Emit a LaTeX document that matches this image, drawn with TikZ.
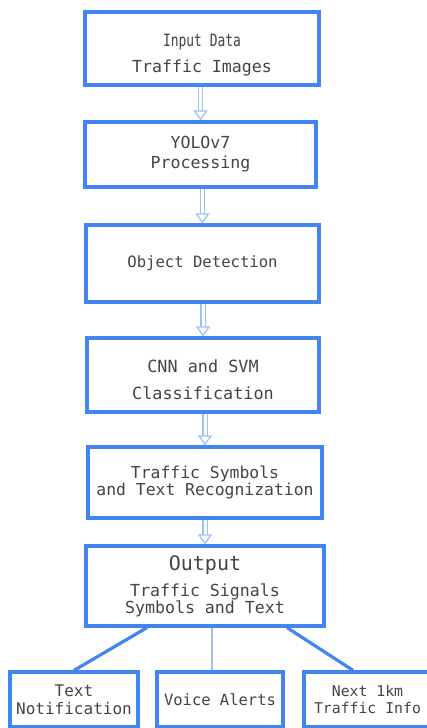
\documentclass[tikz,border=0pt]{standalone}
\usepackage{fontspec}
\setmonofont{DejaVu Sans Mono}
\newfontfamily\condmono[FakeStretch=0.76]{DejaVu Sans Mono}
\usetikzlibrary{arrows.meta}
\definecolor{boxblue}{HTML}{4285F0}
\definecolor{flowblue}{HTML}{9FC0F5}
\definecolor{ink}{HTML}{444444}
\newcommand{\mono}[2]{\ttfamily\fontsize{#1}{#2}\selectfont}
\begin{document}
\begin{tikzpicture}[x=1pt,y=-1pt,
  stage/.style={draw=boxblue, line width=3.2pt, fill=white, text=ink,
    align=center, inner sep=0pt},
  flow/.style={draw=flowblue, double=white, double distance=3pt, line width=1.3pt,
    -{Triangle[open, width=14pt, length=10pt, line width=1.3pt]}},
  branch/.style={draw=boxblue, line width=3.2pt},
  thinbranch/.style={draw=flowblue, line width=2pt}]
\useasboundingbox (0,0) rectangle (427,728);

% main pipeline
\node[stage, minimum width=234pt, minimum height=73pt, font=\mono{16.6}{20}] (inp) at (202,48.5)
  {\vphantom{Ag}\\[-6pt]{\condmono\fontsize{17}{15}\selectfont Input Data}\\[6pt]Traffic Images};
\node[stage, minimum width=231pt, minimum height=65pt, font=\mono{16.6}{20}] (yolo) at (200.5,154.5)
  {YOLOv7\\Processing};
\node[stage, minimum width=233pt, minimum height=77pt, font=\mono{15.6}{19}] (det) at (202.5,263.5)
  {\raisebox{2pt}{Object Detection}};
\node[stage, minimum width=232pt, minimum height=74pt, font=\mono{16.8}{20}] (cls) at (203,375)
  {\strut\\[-12pt]CNN and SVM\\[7pt]Classification};
\node[stage, minimum width=234pt, minimum height=71pt, font=\mono{16.4}{17}] (rec) at (205,482.5)
  {Traffic Symbols\\and Text Recognization};
\node[stage, minimum width=238pt, minimum height=80pt, font=\mono{16.6}{15.5}] (out) at (205,586)
  {{\fontsize{20}{22}\selectfont Output}\\[8pt]Traffic Signals\\Symbols and Text};

% output channels
\node[stage, minimum width=128pt, minimum height=55pt, font=\mono{16}{18}] (tn) at (74,699.5)
  {Text\\Notification};
\node[stage, minimum width=126pt, minimum height=55pt, font=\mono{15.5}{18}] (va) at (220,699.5)
  {Voice Alerts};
\node[stage, minimum width=127pt, minimum height=55pt, font=\mono{14.8}{17}] (ni) at (367.5,699.5)
  {Next 1km\\Traffic Info};

% flow arrows
\draw[flow] (yolo.north |- inp.south) -- (yolo.north);
\draw[flow] (det.north |- yolo.south) -- (det.north);
\draw[flow] (cls.north |- det.south) -- (cls.north);
\draw[flow] (rec.north |- cls.south) -- (rec.north);
\draw[flow] (out.north |- rec.south) -- (out.north);

% branches to the output channels
\draw[branch] ([xshift=-58pt]out.south) -- (tn.north);
\draw[thinbranch] ([xshift=-8pt]va.north |- out.south) -- ([xshift=-8pt]va.north);
\draw[branch] ([xshift=82pt]out.south) -- ([xshift=-14.5pt]ni.north);
\end{tikzpicture}
\end{document}
